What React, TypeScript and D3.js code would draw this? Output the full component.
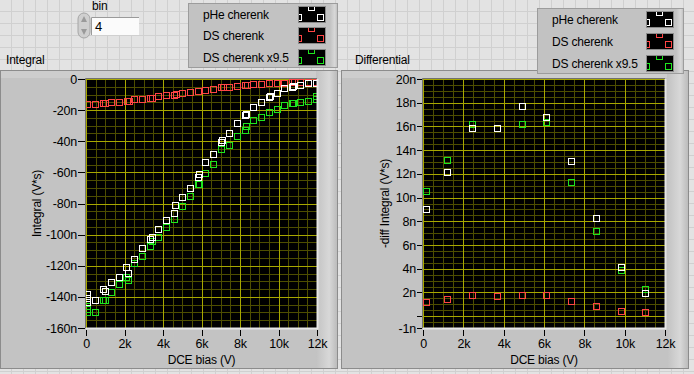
import { useEffect, useRef } from "react";
import * as d3 from "d3";

const W = 694;
const H = 374;
const FONT = "'Liberation Sans', Arial, sans-serif";
const FS = 12;
const LS = -0.2;

// Integral plot, values in nV*s
const pheIntBias = [60, 60, 60, 485, 900, 1004, 1316, 1732, 2095, 2199, 2511, 2926, 3342, 3446, 3758, 4173, 4589, 4641, 5004, 5420, 5835, 5887, 6199, 6615, 7030, 7082, 7446, 7861, 8277, 8329, 8692, 9108, 9524, 9540, 9939, 10303, 10719, 10771, 11134, 11550, 11931];
const pheInt = [-138.2, -140.7, -143.1, -142.2, -135.2, -136.4, -130.7, -127.4, -121.0, -124.9, -115.9, -108.8, -103.0, -101.3, -96.6, -90.8, -86.3, -81.0, -76.0, -70.3, -63.2, -61.3, -53.6, -48.4, -40.7, -39.4, -34.9, -28.5, -23.3, -22.3, -18.2, -15.0, -11.8, -10.9, -9.2, -6.0, -5.4, -4.7, -4.1, -2.8, -2.8];

const dsIntBias = [60, 485, 900, 1004, 1316, 1732, 2113, 2217, 2511, 2926, 3342, 3446, 3758, 4173, 4589, 4658, 5004, 5420, 5835, 6199, 6615, 7030, 7100, 7446, 7861, 8277, 8381, 8692, 9108, 9524, 9939, 10303, 10719, 10788, 11134, 11550, 11931];
const dsInt = [-16.3, -16.3, -15.6, -15.6, -15.0, -15.0, -14.4, -14.4, -13.1, -13.1, -12.4, -12.0, -11.1, -10.5, -10.5, -9.9, -9.2, -8.6, -7.9, -7.3, -6.6, -5.4, -5.4, -5.4, -4.7, -4.1, -4.1, -3.4, -3.4, -2.8, -2.8, -2.8, -2.1, -2.1, -2.1, -2.1, -2.1];

const dsxIntBias = [60, 60, 60, 485, 900, 1004, 1316, 1732, 2095, 2199, 2511, 2926, 3342, 3446, 3758, 4173, 4589, 5004, 5420, 5835, 5887, 6199, 6615, 7030, 7446, 7861, 8277, 8329, 8692, 9108, 9524, 9939, 10303, 10719, 10771, 11134, 11550, 11931, 11931];
const dsxInt = [-146.0, -147.6, -149.7, -149.9, -142.2, -142.2, -137.1, -131.9, -127.4, -129.4, -118.4, -113.9, -107.5, -104.3, -101.7, -95.3, -90.2, -81.6, -75.0, -67.3, -67.7, -60.6, -54.8, -45.2, -42.6, -36.8, -33.0, -30.4, -26.5, -24.6, -21.4, -19.5, -16.9, -15.6, -15.6, -15.0, -14.3, -13.0, -11.1];

// Differential plot, values in nV*s
const diffBias = [165, 1207, 2446, 3686, 4926, 6116, 7355, 8595, 9835, 11025];
const pheDiff = [9.0, 12.13, 15.84, 15.84, 17.7, 16.77, 13.06, 8.25, 4.17, 1.93];
const dsDiff = [1.17, 1.42, 1.76, 1.67, 1.76, 1.76, 1.25, 0.83, 0.41, 0.32];
const dsxDiff = [10.53, 13.14, 16.2, 15.9, 16.18, 16.35, 11.29, 7.15, 3.87, 2.32];

const biasTicks = [0, 2000, 4000, 6000, 8000, 10000, 12000];
const intTicks = [0, -20, -40, -60, -80, -100, -120, -140, -160];
const diffTicks = [-1, 0, 2, 4, 6, 8, 10, 12, 14, 16, 18, 20];

const seriesNames = ["pHe cherenk", "DS cherenk", "DS cherenk x9.5"];
const seriesColors = ["#ffffff", "#ff4545", "#1ee61e"];

type Sel = d3.Selection<SVGGElement, unknown, null, undefined>;

interface PlotCfg {
  id: string;
  left: number;
  top: number;
  right: number;
  bottom: number;
  yDomain: [number, number];
  yTicks: number[];
  yMinor: number;
  yFmt: (v: number) => string;
  yLabel: string;
  yLabelX: number;
  tickSize: number;
  series: { xs: number[]; ys: number[]; color: string }[];
}

// hollow square drawn as a filled ring, so it lands on whole pixels
const squarePath = (x0: number, y0: number) =>
  `M${x0},${y0}h7v7h-7Z M${x0 + 1},${y0 + 1}v5h5v-5Z`;

function label(g: Sel, x: number, y: number, s: string, size = FS) {
  return g.append("text").attr("x", x).attr("y", y).attr("font-family", FONT)
    .attr("font-size", size).attr("letter-spacing", LS).attr("fill", "#000").text(s);
}

function drawPlot(root: Sel, c: PlotCfg) {
  const x = d3.scaleLinear().domain([0, 12000]).range([c.left, c.right]);
  const y = d3.scaleLinear().domain(c.yDomain).range([c.bottom, c.top]);
  const g = root.append("g");

  g.append("rect")
    .attr("x", c.left)
    .attr("y", c.top)
    .attr("width", c.right - c.left)
    .attr("height", c.bottom - c.top)
    .attr("fill", "#000");

  const px = (v: number) => Math.round(v) + 0.5;
  const grid = g.append("g").attr("shape-rendering", "crispEdges");
  // minor grid
  d3.range(0, 12001, 500).forEach((v) => {
    if (v % 2000 === 0) return;
    grid.append("line").attr("x1", px(x(v))).attr("x2", px(x(v)))
      .attr("y1", c.top).attr("y2", c.bottom).attr("stroke", "#4e4e00");
  });
  d3.range(c.yDomain[0], c.yDomain[1] + 0.001, c.yMinor).forEach((v) => {
    grid.append("line").attr("x1", c.left).attr("x2", c.right)
      .attr("y1", px(y(v))).attr("y2", px(y(v))).attr("stroke", "#4e4e00");
  });
  // major grid
  biasTicks.forEach((v) => {
    grid.append("line").attr("x1", px(x(v))).attr("x2", px(x(v)))
      .attr("y1", c.top).attr("y2", c.bottom).attr("stroke", "#a8a800");
  });
  c.yTicks.forEach((v) => {
    grid.append("line").attr("x1", c.left).attr("x2", c.right)
      .attr("y1", px(y(v))).attr("y2", px(y(v))).attr("stroke", "#a8a800");
  });

  // markers
  const clip = root.append("clipPath").attr("id", c.id);
  clip.append("rect").attr("x", c.left).attr("y", c.top)
    .attr("width", c.right - c.left).attr("height", c.bottom - c.top);
  const marks = g.append("g").attr("clip-path", `url(#${c.id})`);
  c.series.forEach((s) => {
    marks.append("g").selectAll("path")
      .data(d3.zip(s.xs, s.ys))
      .join("path")
      .attr("d", (d) => squarePath(Math.round(x(d[0])) - 3, Math.round(y(d[1])) - 3))
      .attr("fill", s.color)
      .attr("fill-rule", "evenodd");
  });

  // sunken border
  g.append("path")
    .attr("d", `M${c.left - 0.5},${c.bottom}V${c.top - 0.5}H${c.right}`)
    .attr("fill", "none").attr("stroke", "#707070");
  g.append("path")
    .attr("d", `M${c.left},${c.bottom + 0.5}H${c.right + 0.5}V${c.top}`)
    .attr("fill", "none").attr("stroke", "#e6e6e6").attr("stroke-width", 2);

  // axes
  const yAxis = g.append("g")
    .attr("transform", `translate(${c.left - 1},0)`)
    .call(d3.axisLeft(y).tickValues(c.yTicks).tickFormat((v) => c.yFmt(+v))
      .tickSize(c.tickSize).tickPadding(1));
  const xAxis = g.append("g")
    .attr("transform", `translate(0,${c.bottom + 2})`)
    .call(d3.axisBottom(x).tickValues(biasTicks)
      .tickFormat((v) => (+v === 0 ? "0" : `${+v / 1000}k`))
      .tickSize(6).tickPadding(3));
  [yAxis, xAxis].forEach((a) => {
    a.select(".domain").remove();
    a.selectAll("line").attr("stroke", "#000").attr("shape-rendering", "crispEdges");
    a.selectAll("text").attr("fill", "#000").attr("font-family", FONT)
      .attr("font-size", 12.5).attr("letter-spacing", LS);
  });

  g.append("text")
    .attr("transform", `translate(${c.yLabelX},${(c.top + c.bottom) / 2}) rotate(-90)`)
    .attr("text-anchor", "middle")
    .attr("dy", "0.35em")
    .attr("font-family", FONT)
    .attr("font-size", FS)
    .attr("letter-spacing", LS)
    .text(c.yLabel);
  g.append("text")
    .attr("x", (c.left + c.right) / 2)
    .attr("y", 364)
    .attr("text-anchor", "middle")
    .attr("font-family", FONT)
    .attr("font-size", FS)
    .attr("letter-spacing", LS)
    .text("DCE bias (V)");
}

function drawLegend(root: Sel, id: string, bx: number, by: number, bw: number, bh: number, tx: number, sx: number, rowY: number[]) {
  const g = root.append("g");
  g.append("rect").attr("x", bx).attr("y", by).attr("width", bw).attr("height", bh)
    .attr("fill", "#c2c2c2");
  g.append("rect").attr("x", bx + bw - 8).attr("y", by).attr("width", 8).attr("height", bh)
    .attr("fill", `url(#edge)`);
  g.append("rect").attr("x", bx + 0.5).attr("y", by + 0.5).attr("width", bw - 1).attr("height", bh - 1)
    .attr("fill", "none").attr("stroke", "#9c9c9c");
  seriesNames.forEach((name, i) => {
    const ry = rowY[i];
    label(g, tx, ry + 13, name);
    g.append("rect").attr("x", sx + 0.5).attr("y", ry + 0.5).attr("width", 27).attr("height", 16)
      .attr("fill", "#000").attr("stroke", "#8a8a8a").attr("shape-rendering", "crispEdges");
    const cid = `${id}-${i}`;
    g.append("clipPath").attr("id", cid).append("rect")
      .attr("x", sx + 1).attr("y", ry + 1).attr("width", 26).attr("height", 15);
    const m = g.append("g").attr("clip-path", `url(#${cid})`);
    [[10, -2], [-3, 8], [19, 8]].forEach(([dx, dy]) => {
      m.append("path").attr("d", squarePath(sx + dx, ry + dy))
        .attr("fill", seriesColors[i]).attr("fill-rule", "evenodd");
    });
  });
}

export default function App() {
  const svgRef = useRef<SVGSVGElement | null>(null);

  useEffect(() => {
    const svg = d3.select(svgRef.current);
    svg.selectAll("*").remove();
    const root = svg.append("g") as unknown as Sel;

    const defs = root.append("defs");
    const edge = defs.append("linearGradient").attr("id", "edge");
    edge.append("stop").attr("offset", "0").attr("stop-color", "#c2c2c2");
    edge.append("stop").attr("offset", "0.6").attr("stop-color", "#d8d8d8");
    edge.append("stop").attr("offset", "1").attr("stop-color", "#b8b8b8");

    // panel background with grid
    root.append("rect").attr("width", W).attr("height", H).attr("fill", "#e3e3e3");
    const bg = root.append("g").attr("stroke", "#d0d0d0").attr("shape-rendering", "crispEdges");
    d3.range(11, W, 12).forEach((v) => {
      bg.append("line").attr("x1", v + 0.5).attr("x2", v + 0.5).attr("y1", 0).attr("y2", H);
    });
    d3.range(11, H, 12).forEach((v) => {
      bg.append("line").attr("y1", v + 0.5).attr("y2", v + 0.5).attr("x1", 0).attr("x2", W);
    });

    // graph frames
    const frames: [number, number][] = [[0, 338], [341, 348]];
    frames.forEach(([fx, fw]) => {
      root.append("rect").attr("x", fx).attr("y", 70).attr("width", fw).attr("height", 299)
        .attr("fill", "#c3c3c3");
      root.append("rect").attr("x", fx).attr("y", 70).attr("width", fw).attr("height", 8)
        .attr("fill", "#cdcdcd");
      root.append("rect").attr("x", fx + fw - 22).attr("y", 70).attr("width", 22).attr("height", 299)
        .attr("fill", "url(#edge)");
      root.append("rect").attr("x", fx + 0.5).attr("y", 70.5).attr("width", fw - 1).attr("height", 298)
        .attr("fill", "none").attr("stroke", "#8c8c8c");
    });

    label(root, 6, 64, "Integral");
    label(root, 355, 64, "Differential");

    drawPlot(root, {
      id: "clipInt",
      left: 86, top: 79, right: 317, bottom: 328,
      yDomain: [-160, 0], yTicks: intTicks, yMinor: 5,
      yFmt: (v) => (v === 0 ? "0" : `${v}n`),
      yLabel: "Integral (V*s)", yLabelX: 37, tickSize: 7,
      series: [
        { xs: dsxIntBias, ys: dsxInt, color: seriesColors[2] },
        { xs: dsIntBias, ys: dsInt, color: seriesColors[1] },
        { xs: pheIntBias, ys: pheInt, color: seriesColors[0] },
      ],
    });
    drawPlot(root, {
      id: "clipDiff",
      left: 423, top: 79, right: 665, bottom: 328,
      yDomain: [-1, 20], yTicks: diffTicks, yMinor: 0.5,
      yFmt: (v) => (v === 0 ? "" : `${v}n`),
      yLabel: "-diff Integral (V*s)", yLabelX: 385, tickSize: 5,
      series: [
        { xs: diffBias, ys: dsxDiff, color: seriesColors[2] },
        { xs: diffBias, ys: dsDiff, color: seriesColors[1] },
        { xs: diffBias, ys: pheDiff, color: seriesColors[0] },
      ],
    });

    drawLegend(root, "lgA", 188, 3, 150, 65, 203, 298, [6, 27, 49]);
    drawLegend(root, "lgB", 537, 8, 147, 66, 552, 646, [11, 33, 55]);

    // "bin" numeric control
    label(root, 92, 10, "bin");
    root.append("rect").attr("x", 78).attr("y", 13).attr("width", 12).attr("height", 25).attr("rx", 6)
      .attr("fill", "#cfcfcf").attr("stroke", "#a6a6a6");
    root.append("path").attr("d", "M81,22L87,22L84,16Z").attr("fill", "#9a9a9a");
    root.append("path").attr("d", "M81,29L87,29L84,35Z").attr("fill", "#9a9a9a");
    root.append("rect").attr("x", 91).attr("y", 17).attr("width", 48).attr("height", 18).attr("fill", "#fbfbfb");
    root.append("path").attr("d", "M91.5,35V17.5H139").attr("fill", "none").attr("stroke", "#9a9a9a");
    label(root, 95, 31, "4", 13);
  }, []);

  return (
    <svg
      ref={svgRef}
      width={W}
      height={H}
      viewBox={`0 0 ${W} ${H}`}
      style={{ position: "absolute", left: 0, top: 0, display: "block" }}
    />
  );
}
